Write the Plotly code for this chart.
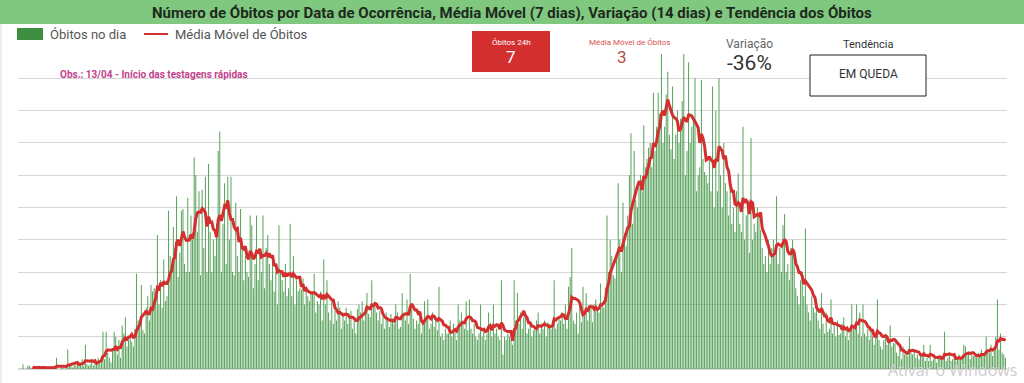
import plotly.graph_objects as go
import pandas as pd

# ---------------- data ----------------
obitos_dia = [
    3, 0, 0, 2, 2, 1, 1,   0, 1, 0, 2, 0, 1, 2,   0, 1, 0, 0, 1, 2, 1,
    7, 0, 0, 1, 1, 0, 2,   12, 2, 3, 1, 4, 2, 4,  4, 3, 6, 2, 15, 3, 2,
    3, 5, 2, 6, 4, 7, 5,   8, 23, 6, 23, 10, 7, 4,  12, 23, 20, 9, 18, 7, 27,
    22, 32, 14, 18, 20, 17, 14,  25, 59, 30, 28, 52, 24, 22,  38, 45, 30, 52, 48, 50, 45,
    83, 40, 55, 38, 68, 42, 45,  98, 70, 65, 88, 75, 107, 57,  72, 98, 99, 65, 60, 106, 60,
    95, 80, 131, 120, 85, 110, 58,  111, 75, 119, 60, 127, 85, 60,  80, 70, 90, 135, 147, 60, 90,
    115, 65, 119, 80, 119, 60, 58,  103, 70, 60, 99, 75, 55, 70,  60, 57, 95, 89, 50, 65, 95,
    55, 72, 60, 95, 50, 75, 83,  65, 55, 70, 48, 60, 40, 89,  60, 55, 48, 65, 45, 50, 90,
    45, 70, 40, 55, 48, 50, 49,  56, 40, 50, 45, 42, 48, 48,  59, 35, 42, 40, 48, 30, 68,
    40, 55, 35, 30, 42, 28, 36,  30, 42, 38, 25, 35, 30, 38,  28, 32, 36, 25, 30, 22, 37,
    40, 35, 42, 30, 38, 47, 34,  32, 55, 38, 40, 35, 30, 36,  28, 32, 25, 35, 30, 26, 34,
    30, 28, 40, 35, 25, 26, 47,  35, 30, 43, 28, 59, 40, 31,  25, 30, 28, 35, 22, 28, 42,
    30, 43, 25, 28, 35, 26, 30,  24, 51, 20, 22, 18, 25, 22,  22, 30, 20, 28, 24, 18, 40,
    30, 35, 28, 25, 42, 24, 43,  25, 22, 28, 20, 18, 22, 40,  20, 25, 18, 22, 35, 28, 20,
    40, 22, 25, 20, 18, 55, 9,   20, 18, 22, 20, 18, 15, 55,  30, 47, 28, 35, 25, 32, 34,
    22, 25, 28, 20, 24, 26, 30,  35, 22, 28, 25, 30, 20, 29,  28, 25, 30, 55, 25, 28, 33,
    30, 35, 28, 40, 25, 51, 57,  75, 30, 28, 35, 22, 40, 29,  51, 35, 47, 30, 38, 40, 29,
    40, 43, 38, 35, 53, 40, 38,  50, 95, 60, 80, 70, 58, 56,  70, 115, 80, 60, 103, 84, 76,
    95, 120, 146, 90, 135, 105, 100,  115, 120, 110, 151, 125, 130, 137,  140, 125, 171, 135, 150, 171, 158,
    195, 140, 150, 170, 184, 145, 136,  175, 130, 145, 160, 140, 155, 166,  195, 120, 135, 190, 140, 150, 155,
    180, 110, 120, 125, 179, 130, 122,  120, 115, 130, 110, 175, 100, 160,  110, 180, 120, 100, 140, 115, 110,
    95, 120, 90, 100, 85, 110, 121,  90, 85, 150, 80, 95, 100, 72,  143, 80, 90, 85, 100, 95, 86,
    75, 65, 70, 60, 80, 65, 75,  80, 70, 107, 65, 75, 60, 89,  96, 60, 65, 55, 75, 80, 73,
    50, 45, 40, 55, 60, 45, 87,  40, 35, 30, 45, 38, 35, 43,  30, 25, 47, 28, 22, 35, 23,
    25, 43, 22, 28, 20, 30, 21,  22, 28, 32, 20, 25, 18, 23,  40, 25, 28, 40, 22, 35, 20,
    40, 22, 20, 25, 18, 23, 20,  15, 20, 43, 18, 14, 12, 18,  20, 15, 18, 27, 14, 16, 16,
    10, 8, 12, 6, 14, 9, 11,  8, 20, 10, 9, 12, 7, 9,  6, 8, 9, 15, 5, 7, 5,
    15, 5, 6, 8, 4, 7, 8,  8, 6, 23, 5, 7, 9, 5,  6, 8, 5, 7, 9, 6, 8,
    15, 14, 8, 10, 6, 9, 8,  9, 7, 10, 8, 12, 9, 8,  20, 12, 10, 15, 8, 13, 20,
    43, 12, 22, 10, 9, 7,
]
dias = list(range(len(obitos_dia)))
media_movel = pd.Series(obitos_dia).rolling(7).mean().tolist()

titulo = "Número de Óbitos por Data de Ocorrência, Média Móvel (7 dias), Variação (14 dias) e Tendência dos Óbitos"
legenda_barras = "Óbitos no dia"
legenda_linha = "Média Móvel de Óbitos"
observacao = "Obs.: 13/04 - Início das testagens rápidas"
kpi_obitos_24h = 7
kpi_media_movel = 3
kpi_variacao = "-36%"
kpi_tendencia = "EM QUEDA"

# ---------------- layout geometry (pixels) ----------------
W, H = 1024, 383
PL, PR, PT, PB = 18, 1007, 46, 369


def px(x):
    return (x - PL) / (PR - PL)


def py(y):
    return (PB - y) / (PB - PT)


BAR_GREEN = "#4f9d52"
RED = "#d32f2f"

fig = go.Figure()
fig.add_trace(go.Bar(
    x=dias, y=obitos_dia, name=legenda_barras,
    marker=dict(color=BAR_GREEN, line=dict(width=0)),
    hoverinfo="x+y",
))
fig.add_trace(go.Scatter(
    x=dias, y=media_movel, name=legenda_linha, mode="lines",
    line=dict(color=RED, width=3),
))

shapes = []
annotations = []

# title bar
shapes.append(dict(type="rect", xref="paper", yref="paper",
                   x0=px(0), x1=px(W), y0=py(24), y1=py(0),
                   fillcolor="#80c77f", line=dict(width=0), layer="above"))
annotations.append(dict(xref="paper", yref="paper", x=px(512), y=py(13),
                        text="<b>" + titulo + "</b>", showarrow=False,
                        font=dict(family="Roboto", size=15, color="#1e2a1e"),
                        xanchor="center", yanchor="middle"))
# left card border
shapes.append(dict(type="line", xref="paper", yref="paper",
                   x0=px(1), x1=px(1), y0=py(24), y1=py(H), line=dict(color="#dcdcdc", width=1)))

# custom legend
shapes.append(dict(type="rect", xref="paper", yref="paper",
                   x0=px(17), x1=px(43), y0=py(40), y1=py(28),
                   fillcolor="#3f8f43", line=dict(width=0)))
annotations.append(dict(xref="paper", yref="paper", x=px(48), y=py(34),
                        text=legenda_barras, showarrow=False, xanchor="left", yanchor="middle",
                        font=dict(family="Roboto", size=13, color="#555555")))
shapes.append(dict(type="line", xref="paper", yref="paper",
                   x0=px(144), x1=px(168), y0=py(34), y1=py(34),
                   line=dict(color=RED, width=2)))
annotations.append(dict(xref="paper", yref="paper", x=px(173), y=py(34),
                        text=legenda_linha, showarrow=False, xanchor="left", yanchor="middle",
                        font=dict(family="Roboto", size=13, color="#555555")))

# observation
annotations.append(dict(xref="paper", yref="paper", x=px(58), y=py(74),
                        text="<b>" + observacao + "</b>", showarrow=False,
                        xanchor="left", yanchor="middle",
                        font=dict(family="Roboto", size=10, color="#c2428c")))

# KPI: Óbitos 24h
shapes.append(dict(type="rect", xref="paper", yref="paper",
                   x0=px(472), x1=px(550), y0=py(72), y1=py(31),
                   fillcolor=RED, line=dict(width=0), layer="above"))
annotations.append(dict(xref="paper", yref="paper", x=px(511), y=py(42),
                        text="Óbitos 24h", showarrow=False, xanchor="center", yanchor="middle",
                        font=dict(family="Roboto", size=8, color="#ffffff")))
annotations.append(dict(xref="paper", yref="paper", x=px(511), y=py(57),
                        text=str(kpi_obitos_24h), showarrow=False, xanchor="center", yanchor="middle",
                        font=dict(family="Roboto", size=17, color="#ffffff")))

# KPI: Média móvel
annotations.append(dict(xref="paper", yref="paper", x=px(629), y=py(43),
                        text=legenda_linha, showarrow=False, xanchor="center", yanchor="middle",
                        bgcolor="#ffffff",
                        font=dict(family="Roboto", size=8, color="#d9534f")))
annotations.append(dict(xref="paper", yref="paper", x=px(622), y=py(57),
                        text=str(kpi_media_movel), showarrow=False, xanchor="center", yanchor="middle",
                        font=dict(family="Roboto", size=17, color="#b0504e")))

# KPI: Variação
annotations.append(dict(xref="paper", yref="paper", x=px(749), y=py(44),
                        text="Variação", showarrow=False, xanchor="center", yanchor="middle",
                        bgcolor="#ffffff",
                        font=dict(family="Roboto", size=12, color="#666666")))
annotations.append(dict(xref="paper", yref="paper", x=px(749), y=py(63),
                        text=kpi_variacao, showarrow=False, xanchor="center", yanchor="middle",
                        font=dict(family="Roboto", size=21, color="#333333")))

# KPI: Tendência
annotations.append(dict(xref="paper", yref="paper", x=px(868), y=py(45),
                        text="Tendência", showarrow=False, xanchor="center", yanchor="middle",
                        bgcolor="#ffffff",
                        font=dict(family="Roboto", size=11, color="#333333")))
shapes.append(dict(type="rect", xref="paper", yref="paper",
                   x0=px(810), x1=px(926), y0=py(96), y1=py(55),
                   fillcolor="#ffffff", line=dict(color="#222222", width=1), layer="above"))
annotations.append(dict(xref="paper", yref="paper", x=px(868), y=py(74),
                        text=kpi_tendencia, showarrow=False, xanchor="center", yanchor="middle",
                        font=dict(family="Roboto", size=12, color="#333333")))

# OS watermark visible in the screenshot
annotations.append(dict(xref="paper", yref="paper", x=px(886), y=py(370),
                        text="Ativar o Windows", showarrow=False, xanchor="left", yanchor="middle",
                        font=dict(family="Open Sans", size=16, color="#cdcdcd")))

fig.update_layout(
    width=W, height=H,
    margin=dict(l=PL, r=W - PR, t=PT, b=H - PB),
    paper_bgcolor="#ffffff", plot_bgcolor="#ffffff",
    showlegend=False,
    bargap=0.4,
    shapes=shapes,
    annotations=annotations,
    xaxis=dict(range=[-3.1, 615.0], showgrid=False, showticklabels=False,
               zeroline=False, showline=False, ticks=""),
    yaxis=dict(range=[0, 200], dtick=20, showgrid=True, gridcolor="#d6d6d6", gridwidth=1,
               showticklabels=False, zeroline=True, zerolinecolor="#d6d6d6", ticks=""),
)

fig.write_html(
    "out.html",
    config={"staticPlot": True, "displayModeBar": False},
    post_script="document.body.style.margin='0';document.body.style.overflow='hidden';",
)
